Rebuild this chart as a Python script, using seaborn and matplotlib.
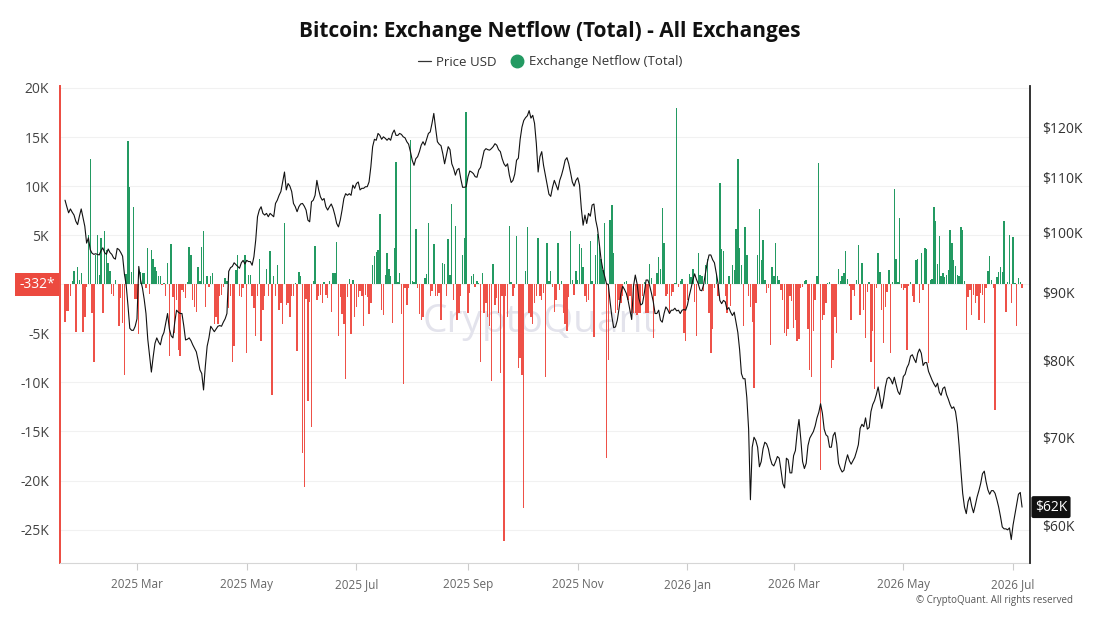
import numpy as np
import pandas as pd
import matplotlib
matplotlib.use('Agg')
import matplotlib.pyplot as plt
import matplotlib.dates as mdates
import matplotlib.transforms as mtransforms
from matplotlib.lines import Line2D
from matplotlib.ticker import FixedLocator, NullLocator, FuncFormatter
import seaborn as sns

# daily values starting 2025-01-20
start_date = '2025-01-20'

# Exchange netflow, thousands of BTC per day
netflow_k = [
    -3.8, -2.7, -2.7, -1.2, 0.3, 1.4, -4.9, 1.8, 0.4, 1.1,
    -4.9, -3.3, -0.3, 5.0, 12.8, -2.9, -7.9, 3.0, 5.0, 0.9,
    4.7, -2.9, 5.4, 3.5, 2.2, 1.3, -1.0, -1.2, 0.4, 0.0,
    -4.3, -1.4, -3.9, -9.2, 1.0, 14.6, 9.9, 1.2, 7.9, -1.5,
    -1.5, -5.1, 1.2, 1.1, 1.1, -0.4, 3.7, -1.0, 3.5, 2.6,
    1.8, 1.3, 0.8, 0.8, -0.1, 0.1, -1.2, 2.2, -7.3, 4.1,
    -1.3, -5.0, -1.6, -6.7, -7.3,
    -0.6, -0.8, -1.4, 0.2, 3.8, 3.0, -1.6, -2.3, -2.8, 1.8,
    0.3, 3.8, 5.4, -2.3, 0.8, -0.3, 0.8, 1.1, -4.1, -3.3,
    -4.0, -1.2, -1.1, -0.3, 0.6, 0.3, -2.4, -1.2, -7.9, -6.3,
    1.5, 3.0, -1.2, -1.3, -0.4, 3.0, -7.0, 0.9, 0.9, -1.2,
    -2.4, -5.3, -1.2, 2.6, -5.8, -2.6, -1.2, 1.6, -1.2, 3.4,
    -11.3, 0.8, -1.2, 2.0, -2.6, -1.9, -4.0, 6.2, -2.1, -1.9,
    -3.3, -1.2, -1.2, 0.1, -6.8, 1.2, 0.8, -17.2, -20.7, -1.5,
    -11.9, -1.8, -14.5,
    0.3, 3.9, -1.6, -1.2, -1.1, -1.9, 0.2, -1.1, -1.4, 0.3,
    -2.8, 1.1, 1.1, 4.3, -5.3, -1.3, -3.0, -4.0, -9.7, -1.3,
    0.5, -5.1, 0.4, -3.3, -2.3, -1.3, -0.7, -1.2, -4.3, -1.1,
    -1.3, -3.0, -1.9, 2.0, 2.9, 3.3, 3.5, 7.2, -2.6, -3.1,
    0.9, 3.2, 1.6, 0.8, -3.9, 3.7, 12.5, 0.2, 1.1, -3.0,
    -10.2, -0.4, -2.1, -0.4, 14.7, 0.3, 0.2, 5.6, -0.4, -3.0,
    -3.6, -3.3,
    0.6, 1.0, 6.2, -1.2, -0.7, 4.1, -1.2, -1.2, -0.9, -3.6,
    2.2, 2.1, -1.2, 4.6, 0.9, 8.2, -1.6, 5.9, -3.6, -2.9,
    -1.2, 3.0, 4.7, 17.5, -2.9, -0.9, 0.8, 1.0, -0.3, 0.3,
    0.1, -7.9, 1.1, -2.9, -1.9, -3.3, -4.3, -9.9, 2.1, -2.1,
    -1.4, -2.9, -9.0, -1.2, -26.2, -1.2, -3.3, 5.9, 0.2, -1.2,
    -0.4, 4.9, -8.5, -7.5, -9.2, -22.8, 1.3, 5.8, -2.9, -3.3,
    -4.0, -1.9, -1.2, 4.7, -1.2, -1.6, -0.9, -9.4,
    4.2, 0.3, 1.4, -0.3, -2.8, -1.6, 4.2, -0.6, 0.3, -2.9,
    -4.1, -4.8, -1.3, 5.4, 0.4, -1.1, 1.4, 0.4, 4.1, 3.7,
    1.8, -1.2, -1.8, -1.6, 4.4, 0.3, -5.4, 3.0, 5.1, 3.8,
    2.6, 1.5, 6.2, -17.7, -7.7, 6.5, 8.1, 3.2, -2.9, -2.6,
    -1.6, -1.9, -1.2, 0.2, 0.3, -1.6, -1.2, -2.9, -2.9, -2.9,
    -3.1, -2.9, -2.9, -1.2, 0.2, -2.9, -2.9, 2.1, 0.6, -5.5,
    -1.2, 1.1, 2.8, 1.6, 7.8, 4.2, -1.2,
    -1.0, -2.9, -1.2, -0.8, 0.1, 18.0, -0.3, 0.3, 0.5, -5.0,
    -5.8, -1.6, 1.0, 0.7, 1.6, -1.8, -5.3, 3.2, 0.9, 0.8,
    -0.7, 2.0, 2.6, -2.9, -7.0, -4.6, -0.4, 0.9, -1.2, 10.3,
    3.6, 3.4, -1.2, -2.9, 0.8, -2.2, 2.0, 1.5, 5.6, 12.8,
    3.7, 2.0, -4.3, 5.8, 3.0, -1.2, -2.3, -3.8, -10.6, -1.9,
    3.0, 7.7, 2.5, 4.5, 0.4, -0.9, -0.4, -6.2, 1.8, 0.8,
    4.2, 0.8, 0.4, -0.6, -1.6, -5.0, -5.3, -4.6, -1.2,
    -1.7, -4.5, -3.6, -5.8, -5.6, -0.4, -0.3, 0.3, 0.4, -4.6,
    -8.7, -9.4, -4.8, -1.6, 0.8, 12.4, -18.9, -3.6, -3.1, -1.9,
    0.1, 0.2, -8.5, -7.7, -3.3, -5.0, 1.6, 0.3, 0.8, 1.1,
    3.4, 0.5, -0.2, -3.6, -0.6, -1.2, 0.4, 4.0, -3.1, 2.2,
    -2.6, -5.5, -0.8, 0.2, -7.9, -4.8, -10.7, -0.4, 3.2, 1.2,
    -2.6, -6.0, -2.3, -0.8, 1.5, -7.0, 0.2, 9.7, 2.6, 0.2,
    6.7, -0.4, -0.6, -0.4, -6.7, -0.2, 0.2, -1.2,
    -1.8, 2.5, 2.6, -1.9, 3.2, -0.6, 3.7, 3.6, -8.0, 0.4,
    0.5, 7.9, 6.4, 2.1, 4.9, 0.8, 1.1, 0.7, 0.9, 1.5,
    5.5, 4.2, 2.5, 1.9, 0.9, 0.8, 5.8, 5.5, 0.3, -4.7,
    -1.3, -0.6, -3.1, -1.1, -1.9, -1.2, -3.6, -0.9, -1.1, -3.9,
    -0.4, 1.3, 2.9, 0.4, -0.4, -12.8, 0.7, 1.2, 1.8, 1.2,
    6.4, -2.8, 0.2, 5.0, -1.9, 4.8, 0.1, -4.3, 0.6, 0.2,
    -0.332,
]

# BTC price, thousands of USD per day
price_k = [
    105.7, 104.5, 103.4, 104.1, 103.5, 103.0, 101.9, 101.3, 102.8, 104.1,
    102.5, 101.0, 98.1, 99.0, 97.0, 96.4, 96.2, 96.3, 96.2, 96.1,
    96.8, 97.3, 96.5, 96.2, 97.1, 96.5, 96.2, 95.6, 95.4, 97.2,
    97.0, 96.5, 95.9, 93.0, 91.2, 88.0, 84.6, 84.3, 84.3, 84.9,
    86.0, 94.2, 92.0, 90.8, 89.0, 86.8, 83.0, 80.6, 78.4, 80.5,
    82.4, 83.2, 82.6, 82.2, 83.4, 84.0, 85.4, 86.8, 84.5, 83.5,
    83.2, 85.5, 87.3, 87.0, 86.8, 86.8, 85.0, 82.9, 83.0, 83.2,
    82.8, 82.2, 81.7, 81.2, 80.0, 78.7, 78.2, 76.0, 79.2, 82.0,
    83.2, 84.9, 84.5, 84.1, 84.5, 84.9, 85.0, 84.9, 85.5, 86.0,
    86.8, 93.4, 94.0, 94.2, 94.8, 94.5, 94.2, 93.9, 94.8, 95.2,
    94.6, 95.2, 95.0, 95.0, 94.4, 95.8, 98.6, 102.7, 103.9,
    104.5, 103.3, 103.0, 103.3, 102.7, 103.3, 103.0, 102.7, 105.1, 105.7,
    106.6, 107.3, 109.1, 111.0, 107.6, 108.8, 108.3, 107.3, 105.1, 104.5,
    103.6, 104.5, 105.0, 105.1, 104.6, 103.9, 102.1, 101.8, 105.4, 105.7,
    106.6, 109.4, 107.6, 106.3, 105.7, 106.0, 104.5, 103.9, 104.5, 105.0,
    104.2, 103.0, 101.5, 100.9, 102.1, 103.9, 106.0, 106.9, 106.6, 106.9,
    106.6, 108.5, 107.9, 108.8, 109.1, 107.6, 107.9, 107.9, 108.2, 108.2,
    109.1, 112.0, 116.0, 117.5, 117.3, 118.7, 118.3, 117.5, 118.0, 117.7,
    117.3, 117.7, 117.3, 118.7, 119.4, 118.3, 118.3, 118.7, 118.5, 118.0,
    117.8, 117.0, 116.5, 115.0, 113.3, 112.3, 113.6, 114.0, 115.0, 116.3,
    117.0, 116.3, 117.5, 118.7, 119.0, 120.8, 122.9, 119.8, 117.0, 116.5,
    116.2, 114.6, 112.6, 114.3, 116.0, 115.4, 112.6, 111.7, 110.4, 111.4,
    111.7, 109.7, 108.1, 108.1, 108.2, 110.1, 111.2, 111.0, 110.7, 110.1,
    110.0, 111.4, 111.9, 113.6, 115.2, 115.6, 115.4, 115.3, 115.6, 116.0,
    116.6, 116.3, 115.4, 115.0, 113.6, 112.6, 112.1, 112.6, 110.4,
    109.0, 109.4, 110.6, 113.3, 113.7, 117.5, 120.0, 121.4, 122.0, 122.4,
    123.5, 121.9, 122.5, 120.8, 116.6, 111.0, 114.0, 115.0, 112.3, 110.4,
    108.5, 106.8, 106.4, 108.1, 109.4, 108.5, 107.6, 109.4, 110.4, 111.7,
    113.3, 113.8, 112.6, 110.9, 109.1, 108.3, 109.4, 109.9, 108.5, 104.2,
    101.2, 103.0, 101.5, 103.3, 102.8, 104.8, 105.0, 102.1, 100.6, 98.0,
    95.3, 93.7, 92.6, 91.4, 91.3, 88.6, 86.3, 84.7, 84.8, 85.8,
    87.6, 89.9, 91.0, 90.5, 89.9, 88.8, 87.3, 85.9, 91.0, 92.8,
    91.4, 89.1, 88.1, 88.3, 89.9, 92.0, 92.0, 91.1, 89.9, 88.6,
    86.8, 86.8, 87.3, 85.8, 85.5, 86.8, 87.8, 87.4, 86.8, 87.3,
    87.3, 87.6, 87.2, 87.3, 86.8, 87.3, 87.4, 87.3, 88.1, 89.5,
    90.7, 92.0, 93.0, 92.1, 91.4, 90.4, 90.3, 91.3, 93.1, 94.8,
    96.1, 96.1, 95.3, 94.8, 93.1, 91.5, 88.8, 88.3, 88.8, 88.6,
    87.4, 87.7, 87.0, 86.5, 87.0,
    85.5, 84.0, 81.5, 78.2, 77.5, 77.5, 75.0, 71.0, 62.8, 68.8,
    70.0, 69.6, 68.8, 66.5, 67.1, 68.6, 69.4, 69.2, 68.6, 67.5,
    66.8, 66.6, 67.1, 67.7, 67.5, 66.1, 64.6, 64.1, 67.5, 67.3, 65.8,
    65.8, 67.8, 68.4, 70.6, 72.2, 69.8, 67.1, 66.3, 66.9, 69.0,
    69.9, 70.3, 70.7, 71.4, 72.4, 73.1, 74.2, 73.0, 71.0, 70.3,
    70.1, 68.8, 68.8, 70.2, 70.6, 69.2, 66.9, 66.3, 65.9, 66.1,
    67.1, 67.9, 67.2, 66.8, 67.2, 67.6, 68.3, 69.1, 71.1, 71.6,
    71.3, 72.4, 71.0, 71.2, 73.2, 74.1, 74.6, 75.4, 76.4, 75.0,
    73.6, 74.8, 76.4, 77.5, 77.7, 77.4, 76.8, 77.7, 76.7, 75.8,
    75.4, 76.4, 77.8, 78.1, 79.0, 79.5, 80.6, 80.8,
    80.2, 79.7, 81.0, 81.6, 81.0, 79.3, 79.7, 79.7, 78.5, 77.9,
    77.3, 76.8, 76.4, 76.9, 75.7, 75.3, 76.2, 76.4, 75.4, 74.8,
    74.1, 73.6, 73.8, 73.2, 71.6, 69.0, 66.1, 63.5, 62.0, 61.3,
    62.6, 63.1, 62.1, 61.4, 62.2, 63.1, 63.8, 64.6, 65.7, 66.0,
    64.8, 63.9, 63.4, 63.8, 63.8, 63.5, 62.8, 62.0, 61.0, 59.9,
    59.7, 59.7, 59.6, 59.8, 58.6, 60.1, 61.2, 62.3, 63.4, 63.6, 62.0,
]

left_ticks = [20, 15, 10, 5, 0, -5, -10, -15, -20, -25]
right_ticks = [60, 70, 80, 90, 100, 110, 120]

GREEN = '#239a62'
RED = '#ee5148'

dates = pd.date_range(start_date, periods=len(netflow_k), freq='D')
df = pd.DataFrame({'date': dates, 'netflow': netflow_k, 'price': price_k})

sns.set_theme(style='white')
plt.rcParams['font.family'] = ['Open Sans', 'DejaVu Sans']

fig = plt.figure(figsize=(11, 6.19), dpi=100)
ax = fig.add_axes([60 / 1100, 1 - 563 / 619, 970 / 1100, 477 / 619])

# netflow bars
bar_colors = np.where(df['netflow'] >= 0, GREEN, RED)
ax.bar(df['date'], df['netflow'], width=0.78, color=bar_colors, zorder=2, linewidth=0)
ax.set_ylim(-28.4, 20.2)
ax.set_xlim(pd.Timestamp('2025-01-17 05:00'), pd.Timestamp('2026-07-10 10:00'))

ax.yaxis.set_major_locator(FixedLocator(left_ticks))
ax.yaxis.set_major_formatter(FuncFormatter(lambda v, p: '' if v == 0 else f'{v:.0f}K'))
ax.yaxis.grid(True, color='#f1f1f1', linewidth=0.8, zorder=0)
ax.tick_params(axis='y', length=0, pad=8, labelsize=10, labelcolor='#444')
ax.xaxis.set_major_locator(mdates.MonthLocator(bymonth=[1, 3, 5, 7, 9, 11]))
ax.xaxis.set_major_formatter(mdates.DateFormatter('%Y %b'))
ax.tick_params(axis='x', bottom=True, length=5, width=0.8, color='#cccccc',
               pad=6, labelsize=8.5, labelcolor='#666')
for s in ['top', 'right']:
    ax.spines[s].set_visible(False)
ax.spines['bottom'].set_color('#d6d6d6')
ax.spines['bottom'].set_linewidth(0.8)
ax.spines['left'].set_color('#ec4a3f')
ax.spines['left'].set_linewidth(1.4)

ax.text(0.495, 0.505, 'CryptoQuant', transform=ax.transAxes, ha='center', va='center',
        fontsize=28, color='#e3e3ec', zorder=1)

# price line on log scale
ax2 = ax.twinx()
sns.lineplot(data=df, x='date', y='price', ax=ax2, color='#111111', linewidth=0.8)
ax2.set_yscale('log')
ax2.set_ylim(56.26, 128.9)
ax2.yaxis.set_major_locator(FixedLocator(right_ticks))
ax2.yaxis.set_minor_locator(NullLocator())
ax2.yaxis.set_major_formatter(FuncFormatter(lambda v, p: f'${v:.0f}K'))
ax2.tick_params(axis='y', which='both', length=0, pad=9, labelsize=10, labelcolor='#333')
ax2.set_xlabel('')
ax2.set_ylabel('')
ax.set_xlabel('')
ax.set_ylabel('')
for s in ['top', 'left', 'bottom']:
    ax2.spines[s].set_visible(False)
ax2.spines['right'].set_color('#222222')
ax2.spines['right'].set_linewidth(1.3)

# current value tags
t_left = mtransforms.blended_transform_factory(ax.transAxes, ax.transData)
ax.text(-0.005, 0, f'{netflow_k[-1] * 1000:.0f}*', transform=t_left, ha='right', va='center',
        fontsize=10, color='white', clip_on=False,
        bbox=dict(boxstyle='square,pad=0.3', fc='#ec4a3f', ec='none'))
t_right = mtransforms.blended_transform_factory(ax2.transAxes, ax2.transData)
ax2.text(1.005, price_k[-1], f'${price_k[-1]:.0f}K', transform=t_right, ha='left', va='center',
         fontsize=10, color='white', clip_on=False, zorder=5,
         bbox=dict(boxstyle='round,pad=0.25,rounding_size=0.15', fc='#111111', ec='none'))

fig.text(0.5, 1 - 32 / 619, 'Bitcoin: Exchange Netflow (Total) - All Exchanges',
         ha='center', va='center', fontsize=15, fontweight='bold', color='#111111')

handles = [Line2D([], [], color='#333333', linewidth=0.9),
           Line2D([], [], linestyle='none', marker='o', markersize=9,
                  markerfacecolor=GREEN, markeredgecolor=GREEN)]
fig.legend(handles, ['Price USD', 'Exchange Netflow (Total)'], loc='center',
           bbox_to_anchor=(0.5, 1 - 62 / 619), ncol=2, frameon=False, fontsize=9.5,
           handlelength=1.0, handletextpad=0.4, columnspacing=1.0, labelcolor='#333')

fig.text(1073 / 1100, 1 - 600 / 619, '\u00a9 CryptoQuant. All rights reserved',
         ha='right', va='center', fontsize=7, color='#555555')

fig.savefig('out.png', dpi=100)
